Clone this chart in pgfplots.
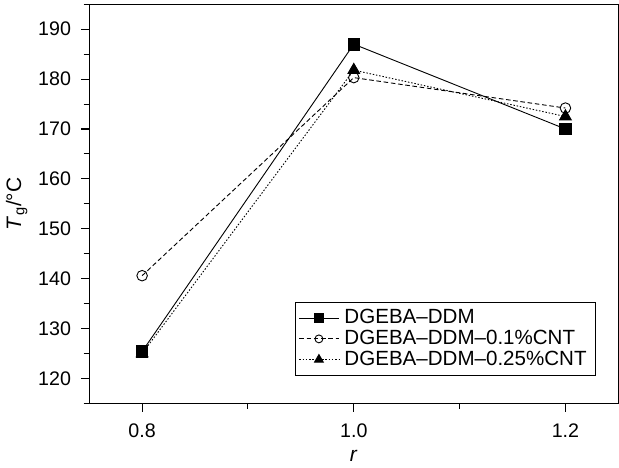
\documentclass[border=0pt]{standalone}
\usepackage{pgfplots}
\pgfplotsset{compat=1.18}
\usepackage{fontspec}
\setmainfont{Liberation Sans}

\begin{document}
\begin{tikzpicture}
\begin{axis}[
  scale only axis, width=291pt, height=219.5pt,
  xmin=0.75, xmax=1.25, ymin=115, ymax=195,
  xtick={0.8,1.0,1.2}, minor xtick={0.9,1.1},
  ytick={120,130,...,190}, minor ytick={115,125,...,195},
  xticklabels={0.8,1.0,1.2},
  tick align=outside, xtick pos=left, ytick pos=left,
  major tick length=4.5pt, minor tick length=3pt,
  tick style={black, line width=0.6pt},
  axis line style={line width=0.7pt},
  /pgf/number format/assume math mode=true,
  tick label style={font=\fontsize{10.8}{12}\selectfont},
  xticklabel style={yshift=-3pt}, yticklabel style={xshift=-2pt},
  label style={font=\fontsize{11.5}{13}\selectfont},
  xlabel={\textit{r}}, ylabel={\textit{T}\textsubscript{g}/°C},
  xlabel style={yshift=0pt}, ylabel style={yshift=-1pt},
  legend style={at={(0.958,0.069)}, anchor=south east, draw=black, line width=0.5pt,
    font=\fontsize{11.3}{13}\selectfont, row sep=-2pt, inner sep=2pt,
    nodes={inner xsep=3pt}},
  legend cell align=left,
  legend image code/.code={\draw[#1] (0cm,0cm) -- (0.76cm,0cm); \draw[#1, mark repeat=2, mark phase=2, every mark/.append style={scale=0.75}] plot coordinates {(0cm,0cm) (0.38cm,0cm) (0.76cm,0cm)};},
]
\addplot[black, line width=0.5pt, mark=square*, mark size=3.2pt, mark options={solid}]
  coordinates {(0.8,125.4) (1.0,187.0) (1.2,170.0)};
\addlegendentry{DGEBA--DDM}
\addplot[black, line width=0.5pt, dash pattern=on 2.5pt off 1.5pt, mark=o, mark size=2.9pt, mark options={solid, fill=white}]
  coordinates {(0.8,140.6) (1.0,180.3) (1.2,174.2)};
\addlegendentry{DGEBA--DDM--0.1\%CNT}
\addplot[black, line width=0.5pt, dash pattern=on 0.8pt off 1pt, mark=triangle*, mark size=3.7pt, mark options={solid}]
  coordinates {(0.8,125.0) (1.0,181.8) (1.2,172.5)};
\addlegendentry{DGEBA--DDM--0.25\%CNT}
\end{axis}
\path (current bounding box.north) ++(0,2pt);
\end{tikzpicture}
\end{document}
